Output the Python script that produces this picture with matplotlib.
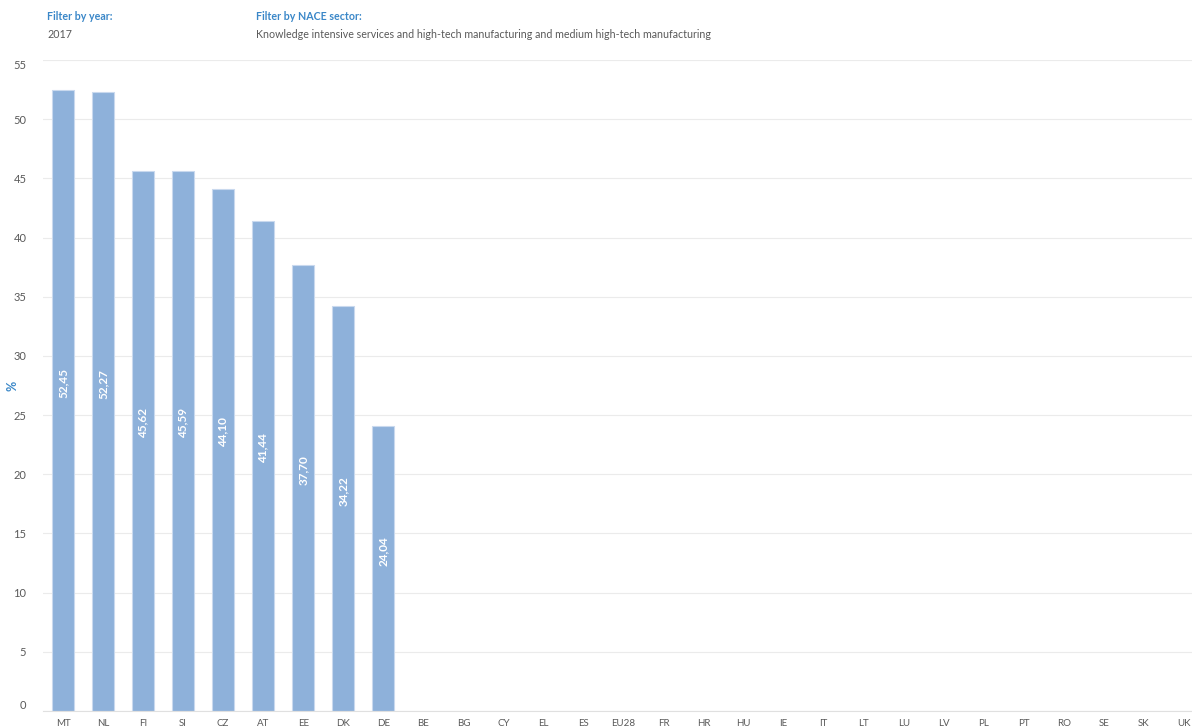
"""Porcentaje por pais, 2017 - barras verticales con etiquetas giradas."""

import matplotlib

matplotlib.use("Agg")
import matplotlib.pyplot as plt  # noqa: E402
import numpy as np  # noqa: E402

PAISES = [
    "MT", "NL", "FI", "SI", "CZ", "AT", "EE", "DK", "DE", "BE", "BG", "CY",
    "EL", "ES", "EU28", "FR", "HR", "HU", "IE", "IT", "LT", "LU", "LV", "PL",
    "PT", "RO", "SE", "SK", "UK",
]
VALORES = [52.45, 52.27, 45.62, 45.59, 44.10, 41.44, 37.70, 34.22, 24.04]
VALORES = VALORES + [np.nan] * (len(PAISES) - len(VALORES))
AÑO = "2017"
SECTOR = "Knowledge intensive services and high-tech manufacturing and medium high-tech manufacturing"

COLOR_BARRA = "#8eb1da"
COLOR_AZUL = "#3a87c8"
COLOR_GRIS = "#595959"

plt.rcParams["font.family"] = ["Lato", "DejaVu Sans"]

fig = plt.figure(figsize=(11.92, 7.27), dpi=100)
ax = fig.add_axes([43 / 1192, 1 - 711 / 727, (1192 - 43) / 1192, (711 - 60) / 727])

x = np.arange(len(PAISES))
ax.bar(x, VALORES, 0.54, color=COLOR_BARRA, edgecolor="#c9d9ee", linewidth=0.8, zorder=2)

for xi, v in zip(x, VALORES):
    if np.isnan(v):
        continue
    ax.text(
        xi, v / 2 + 1.5, f"{v:.2f}".replace(".", ","),
        rotation=90, ha="center", va="center",
        fontsize=8.5, fontweight="bold", color="white", zorder=3,
    )

ax.set_xlim(-0.5, 28.2)
ax.set_ylim(0, 55)
ax.set_yticks(range(0, 56, 5))
ax.set_xticks(x)
ax.set_xticklabels(PAISES)
ax.tick_params(axis="x", length=0, labelsize=7, colors=COLOR_GRIS, pad=6)
ax.tick_params(axis="y", length=0, labelsize=8, colors=COLOR_GRIS, pad=12)
etiquetas_y = ax.get_yticklabels()
etiquetas_y[0].set_va("bottom")
etiquetas_y[-1].set_va("top")
ax.grid(axis="y", color="#ebebeb", linewidth=0.8, zorder=0)
for lado in ["top", "right", "left"]:
    ax.spines[lado].set_visible(False)
ax.spines["bottom"].set_color("#e0e0e0")
ax.set_ylabel("%", color=COLOR_AZUL, fontsize=9, fontweight="bold")
ax.yaxis.set_label_coords(-0.021, 0.5)

# Cabecera con los filtros
fig.text(47 / 1192, 1 - 17 / 727, "Filter by year:", color=COLOR_AZUL,
         fontsize=7.7, fontweight="bold", va="center")
fig.text(47 / 1192, 1 - 34 / 727, AÑO, color=COLOR_GRIS, fontsize=7.7, va="center")
fig.text(256 / 1192, 1 - 17 / 727, "Filter by NACE sector:", color=COLOR_AZUL,
         fontsize=7.7, fontweight="bold", va="center")
fig.text(256 / 1192, 1 - 34 / 727, SECTOR, color=COLOR_GRIS, fontsize=7.7, va="center")

fig.savefig("out.png", dpi=100)
plt.close(fig)
